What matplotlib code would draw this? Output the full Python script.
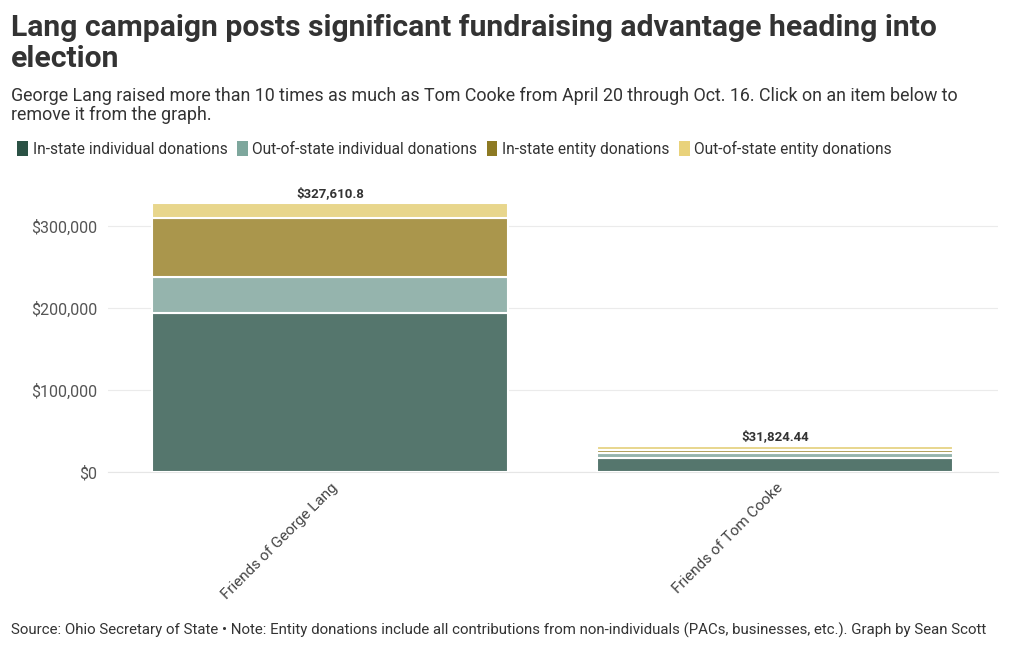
import matplotlib.pyplot as plt
from matplotlib.patches import Patch
from matplotlib.ticker import FuncFormatter

plt.rcParams['font.family'] = ['Roboto', 'DejaVu Sans']

committees = ['Friends of George Lang', 'Friends of Tom Cooke']
series = ['In-state individual donations', 'Out-of-state individual donations',
          'In-state entity donations', 'Out-of-state entity donations']
in_state_ind = [193500, 16500]
out_state_ind = [44300, 6800]
in_state_ent = [72000, 3200]
out_state_ent = [17810.8, 5324.44]
totals_text = ['$327,610.8', '$31,824.44']

legend_colors = ['#2b5245', '#7ea79d', '#8d7a23', '#e9d27b']
bar_colors = ['#55766d', '#95b4ad', '#aa964c', '#e8d68c']

fig = plt.figure(figsize=(10.2, 6.5), dpi=100)
ax = fig.add_axes([108 / 1020, 1 - 472 / 650, 890 / 1020, 291 / 650])

x = range(len(committees))
bottom = [0, 0]
for vals, c in zip([in_state_ind, out_state_ind, in_state_ent, out_state_ent], bar_colors):
    ax.bar(x, vals, width=0.8, bottom=bottom, color=c, edgecolor='white', linewidth=1.5, zorder=3)
    bottom = [b + v for b, v in zip(bottom, vals)]

for i, t in enumerate(totals_text):
    ax.text(i, bottom[i] + 4000, t, ha='center', va='bottom', fontsize=9.5,
            fontweight='bold', color='#333333')

ax.set_xlim(-0.5, 1.5)
ax.set_ylim(0, 355000)
ax.set_yticks([0, 100000, 200000, 300000])
ax.yaxis.set_major_formatter(FuncFormatter(lambda v, p: '${:,.0f}'.format(v)))
ax.grid(axis='y', color='#ebebeb', linewidth=0.8, zorder=0)
for s in ['top', 'right', 'left']:
    ax.spines[s].set_visible(False)
ax.spines['bottom'].set_color('#e6e6e6')
ax.tick_params(axis='y', length=0, labelsize=11.5, labelcolor='#555555', pad=8)
ax.tick_params(axis='x', length=0, labelsize=11, labelcolor='#444444', pad=6)
ax.set_xticks(list(x))
ax.set_xticklabels(committees, rotation=45, ha='right', va='top', rotation_mode='anchor')

fig.text(0.011, 0.978, 'Lang campaign posts significant fundraising advantage heading into\nelection',
         fontsize=21.7, fontweight='bold', color='#333333', va='top', linespacing=1.12)
fig.text(0.011, 0.866, 'George Lang raised more than 10 times as much as Tom Cooke from April 20 through Oct. 16. Click on an item below to\nremove it from the graph.',
         fontsize=12.9, color='#333333', va='top', linespacing=1.05)

handles = [Patch(facecolor=c, edgecolor='none') for c in legend_colors]
fig.legend(handles, series, loc='upper left', bbox_to_anchor=(0.003, 0.805), ncol=4,
           frameon=False, fontsize=11.2, handlelength=0.7, handleheight=1.1,
           handletextpad=0.3, columnspacing=0.6, labelcolor='#333333')

fig.text(0.011, 0.018, 'Source: Ohio Secretary of State \u2022 Note: Entity donations include all contributions from non-individuals (PACs, businesses, etc.). Graph by Sean Scott',
         fontsize=10.85, color='#333333', va='bottom')

fig.savefig('out.png', dpi=100, facecolor='white')
